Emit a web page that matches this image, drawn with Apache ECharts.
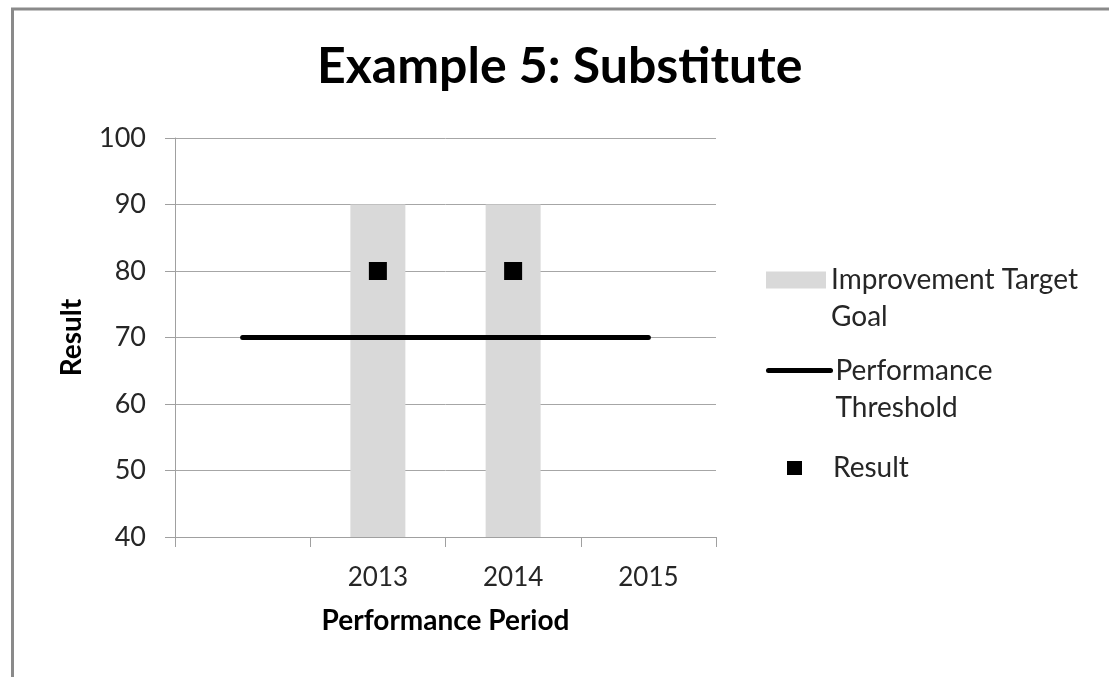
<!DOCTYPE html>
<html>
<head>
<meta charset="utf-8">
<title>Example 5: Substitute</title>
<script src="https://cdn.jsdelivr.net/npm/echarts@6/dist/echarts.min.js"></script>
<style>
  html, body { margin: 0; padding: 0; background: #ffffff; }
  #chart { width: 1109px; height: 677px; }
</style>
</head>
<body>
<div id="chart"></div>
<script>
// Performance periods (the first slot is left empty on purpose)
const periods = ['', '2013', '2014', '2015'];
// Improvement target goal bands
const targetGoal = ['-', 90, 90, '-'];
// Performance threshold across all periods
const threshold = [70, 70, 70, 70];
// Achieved results
const results = ['-', 80, 80, '-'];
// Value axis range
const yMin = 40;
const yMax = 100;
const yStep = 10;

const FONT = 'Lato';
const LINE_H = 37;
const LEGEND_FS = 28;
const axisGrey = '#a0a0a0';
const textDark = '#262626';

const chart = echarts.init(document.getElementById('chart'), null, { renderer: 'canvas' });

const legendText = {
  fontFamily: FONT,
  fontSize: LEGEND_FS,
  color: textDark,
  lineHeight: LINE_H
};

// Two-line legend labels: an empty leading line keeps the first text line
// level with the icon while the second line hangs below it.
const twoLine = (a, b) => '\n' + a + '\n' + b;

chart.setOption({
  backgroundColor: '#ffffff',
  animation: false,
  title: {
    text: 'Example 5: Substitute',
    left: 317,
    top: 42,
    padding: 0,
    textStyle: { fontFamily: FONT, fontWeight: 'bold', fontSize: 50, color: '#000000' }
  },
  graphic: [{
    type: 'rect',
    shape: { x: 12.5, y: 9, width: 1300, height: 900 },
    style: { fill: 'none', stroke: '#8a8a8a', lineWidth: 3 },
    silent: true
  }],
  grid: { left: 175, right: 393, top: 138, bottom: 140 },
  legend: [{
    data: [{ name: 'Improvement Target Goal', icon: 'rect' }],
    left: 766,
    top: 271.5 - (1.5 * LINE_H - 8.5),
    padding: 0,
    itemWidth: 60,
    itemHeight: 17,
    selectedMode: false,
    formatter: () => twoLine('Improvement Target', 'Goal'),
    textStyle: legendText
  }, {
    data: ['Performance Threshold'],
    left: 766,
    top: 362 - (1.5 * LINE_H - 8.5),
    padding: 0,
    itemWidth: 62,
    itemHeight: 17,
    selectedMode: false,
    lineStyle: { width: 5, color: '#000000' },
    itemStyle: { color: 'rgba(0,0,0,0)', borderWidth: 0, opacity: 0 },
    formatter: () => twoLine('Performance', 'Threshold'),
    textStyle: legendText
  }, {
    data: [{ name: 'Result', icon: 'rect' }],
    left: 787,
    top: 461 - (LINE_H / 2 - 7),
    padding: 0,
    itemWidth: 15,
    itemHeight: 14,
    selectedMode: false,
    itemStyle: { color: '#000000', opacity: 1 },
    formatter: '{gap|}{name}',
    textStyle: Object.assign({
      rich: {
        gap: { width: 26 },
        name: { fontFamily: FONT, fontSize: LEGEND_FS, color: textDark, lineHeight: LINE_H }
      }
    }, legendText)
  }],
  xAxis: {
    type: 'category',
    data: periods,
    boundaryGap: true,
    name: 'Performance Period',
    nameLocation: 'middle',
    nameGap: 70,
    nameTextStyle: { fontFamily: FONT, fontWeight: 'bold', fontSize: 28, color: '#000000' },
    axisLine: { show: true, lineStyle: { color: axisGrey, width: 1 } },
    axisTick: { show: true, interval: 0, length: 10, lineStyle: { color: axisGrey } },
    axisLabel: { interval: 0, margin: 28, fontFamily: FONT, fontSize: 26, color: textDark },
    splitLine: { show: false }
  },
  yAxis: {
    type: 'value',
    min: yMin,
    max: yMax,
    interval: yStep,
    name: 'Result',
    nameLocation: 'middle',
    nameGap: 89,
    nameTextStyle: { fontFamily: FONT, fontWeight: 'bold', fontSize: 28, color: '#000000' },
    axisLine: { show: true, lineStyle: { color: axisGrey, width: 1 } },
    axisTick: { show: true, length: 10, lineStyle: { color: axisGrey } },
    axisLabel: { margin: 29, fontFamily: FONT, fontSize: 27, color: textDark },
    splitLine: { show: true, lineStyle: { color: '#a6a6a6', width: 1 } }
  },
  series: [{
    name: 'Improvement Target Goal',
    type: 'bar',
    data: targetGoal,
    barWidth: 55,
    itemStyle: { color: '#d9d9d9' },
    z: 2
  }, {
    name: 'Performance Threshold',
    type: 'line',
    data: threshold,
    symbol: 'none',
    showSymbol: false,
    lineStyle: { color: '#000000', width: 5, cap: 'round' },
    itemStyle: { color: '#000000' },
    z: 3
  }, {
    name: 'Result',
    type: 'scatter',
    data: results,
    symbol: 'rect',
    symbolSize: 18,
    itemStyle: { color: '#000000', opacity: 1 },
    z: 4
  }]
});
</script>
</body>
</html>
